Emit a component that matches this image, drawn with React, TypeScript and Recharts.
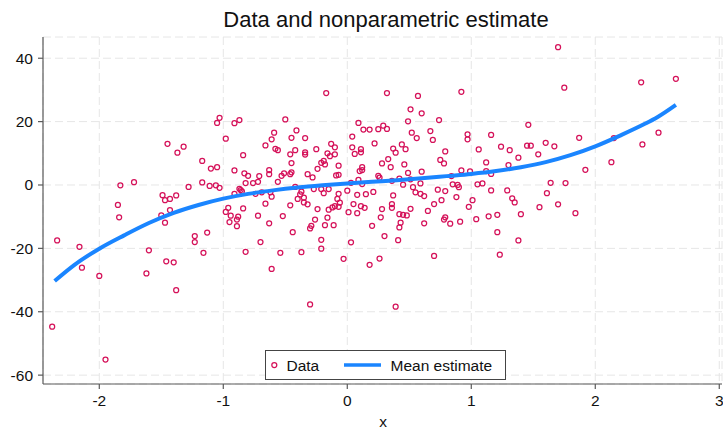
import React from "react";
import { ScatterChart, Scatter, XAxis, YAxis, CartesianGrid } from "recharts";

const TITLE = "Data and nonparametric estimate";
const X_LABEL = "x";
const LEGEND_DATA = "Data";
const LEGEND_MEAN = "Mean estimate";

const xTicks = [-2, -1, 0, 1, 2, 3];
const yTicks = [-60, -40, -20, 0, 20, 40];

// observed data (x, y)
const observations: [number, number][] = [
  [-1.45, 13.0], [-1.37, 10.2], [-1.32, 12.1], [-1.17, 7.6], [-1.10, 5.2], [-1.05, 5.6],
  [-1.05, 19.6], [-1.03, 21.2], [-1.83, -0.1], [-1.72, 0.9], [-1.28, -0.6], [-1.17, 0.8],
  [-1.11, -0.3], [-1.06, -0.1], [-1.03, -0.9], [-1.85, -6.3], [-1.84, -10.2], [-1.49, -3.2],
  [-1.47, -4.8], [-1.43, -4.4], [-1.38, -3.3], [-1.43, -7.9], [-1.50, -9.6],
  [-2.34, -17.5], [-2.16, -19.5], [-2.14, -26.1], [-2.00, -28.7], [-1.47, -11.9], [-1.60, -20.6],
  [-1.62, -27.9], [-1.46, -24.1], [-1.40, -24.4], [-1.38, -33.2], [-1.23, -16.1], [-1.23, -18.0],
  [-1.13, -15.0], [-1.16, -21.4], [-2.38, -44.7], [-1.95, -55.1],
  [-0.17, 29.0], [0.32, 29.0], [-0.91, 19.5], [-0.87, 20.5], [-0.50, 20.7], [-0.98, 14.6],
  [-0.59, 16.5], [-0.61, 14.4], [-0.41, 17.2], [-0.45, 14.9], [-0.34, 14.8], [-0.66, 12.5],
  [-0.58, 11.4], [-0.56, 11.0], [-0.42, 11.0], [-0.46, 9.7], [-0.34, 10.3], [-0.34, 9.6],
  [-0.25, 11.3], [-0.13, 13.0], [-0.10, 11.9], [-0.16, 10.0], [-0.14, 9.1], [-0.10, 9.7],
  [-0.84, 9.4], [-0.91, 4.6], [-0.45, 6.9], [-0.21, 7.0], [-0.19, 7.6], [-0.18, 6.5],
  [-0.07, 6.1], [-0.24, 5.1], [-0.63, 4.7], [-0.63, 3.4], [-0.83, 3.7], [-0.80, 2.9],
  [-0.71, 2.8], [-0.72, 1.0], [-0.51, 3.7], [-0.53, 2.9], [-0.46, 3.4], [-0.45, 4.0],
  [-0.32, 3.4], [-0.28, 2.4], [-0.09, 3.0], [-0.07, 3.2], [-0.56, 1.0], [-0.82, 0.6],
  [-0.76, 0.6], [-0.87, -1.2], [-0.86, -1.6], [-0.85, -2.0], [-0.91, -2.8], [-0.74, -2.8],
  [-0.69, -2.3], [-0.62, -2.3], [-0.61, -3.7], [-0.42, -0.6], [-0.37, -2.1], [-0.38, -3.0],
  [-0.40, -4.4], [-0.35, -4.0], [-0.35, -5.5], [-0.32, -6.1], [-0.27, -1.3], [-0.21, -1.3],
  [-0.15, -1.3], [-0.19, -2.6], [-0.07, -2.8], [-0.08, -4.4], [-0.06, -5.6], [-0.10, -6.7],
  [-0.12, -7.1], [-0.15, -7.8], [-0.07, -6.9], [-0.24, -7.6], [-0.66, -5.9], [-0.46, -6.4],
  [-0.84, -7.4], [-0.96, -7.2], [-0.98, -8.5], [-0.94, -9.7], [-0.88, -10.0], [-0.72, -9.7],
  [-0.52, -9.8], [-0.16, -10.3], [0.00, -1.8], [0.01, -8.6], [0.05, -6.0], [0.08, -8.9],
  [0.11, -6.7], [0.14, -7.2], [0.08, -3.1], [0.15, -2.9], [0.21, -2.2], [0.28, -7.6],
  [0.27, -10.2], [0.03, 0.7], [0.09, 1.6], [0.12, 0.3], [0.25, 2.9], [0.26, 2.3],
  [0.28, 6.8], [0.33, 8.2], [0.04, 15.3], [0.04, 11.9], [0.11, 11.3], [0.11, 10.3],
  [0.06, 9.8], [0.09, 19.6], [0.13, 17.5], [0.18, 17.5], [0.25, 17.6], [0.29, 18.7],
  [0.32, 17.7], [0.22, 13.1], [0.12, 5.6], [0.12, 4.7], [0.10, 4.4],
  [-0.95, -11.7], [-0.89, -10.9], [-0.89, -13.0], [-0.63, -12.1], [-0.44, -14.9], [-0.70, -18.0],
  [-0.82, -21.1], [-0.54, -21.4], [-0.37, -21.2], [-0.61, -26.5], [-0.30, -37.7], [-0.29, -12.9],
  [-0.30, -13.7], [-0.26, -10.9], [-0.18, -12.7], [-0.11, -12.7], [-0.21, -17.3], [-0.21, -20.1],
  [0.20, -12.9], [0.30, -16.1], [0.03, -18.1], [-0.03, -23.3], [0.18, -25.2], [0.26, -23.2],
  [0.42, -9.2], [0.45, -9.4], [0.48, -9.6], [0.43, -11.9], [0.42, -13.4], [0.41, -17.4],
  [0.65, -8.2], [0.62, -12.1], [0.79, -10.2], [0.78, -10.9], [0.83, -12.2], [0.91, -11.6],
  [1.04, -10.8], [1.14, -9.9], [1.21, -9.4], [1.21, -14.9], [1.40, -9.2], [1.38, -17.5],
  [0.70, -22.4], [1.23, -22.0], [0.39, -38.4], [1.84, -8.9],
  [0.57, 28.1], [0.92, 29.4], [1.70, 43.5], [0.51, 23.9], [0.60, 22.6], [0.49, 20.1],
  [0.74, 20.5], [0.52, 16.5], [0.56, 14.8], [0.67, 17.0], [0.69, 14.2], [0.97, 16.0],
  [0.97, 14.4], [1.16, 15.8], [1.46, 19.0], [0.44, 12.8], [0.37, 11.5], [0.47, 11.3],
  [0.39, 10.2], [0.35, 5.6], [0.79, 10.6], [0.75, 7.9], [0.78, 6.8], [1.06, 11.2],
  [1.24, 12.1], [1.31, 11.0], [1.45, 12.4], [1.48, 12.4], [1.60, 13.3], [1.67, 12.2],
  [1.54, 9.7], [1.38, 8.6], [1.12, 7.1], [1.12, 4.4], [1.16, 3.5], [1.30, 6.3],
  [0.46, 6.5], [0.60, 4.2], [0.49, 3.8], [0.84, 2.8], [0.92, 4.6], [0.99, 4.3],
  [0.42, 2.0], [0.36, 1.3], [0.51, 1.8], [0.45, 0.1], [0.59, 0.5], [0.53, -0.7],
  [0.55, -2.3], [0.59, -2.8], [0.62, -3.5], [0.73, -1.5], [0.79, -1.9], [0.85, 0.2],
  [0.89, 0.0], [0.90, -0.7], [1.05, 0.2], [1.09, 0.5], [1.16, -1.7], [1.29, -1.7],
  [1.64, 0.7], [1.61, -2.6], [0.37, -3.3], [0.88, -3.8], [1.01, -4.8], [0.76, -4.8],
  [1.33, -4.2], [1.35, -5.5], [0.36, -6.0], [0.36, -7.2], [0.51, -7.5], [0.70, -6.0],
  [0.98, -6.9], [1.55, -7.0], [1.70, -6.1],
  [1.75, 30.7], [2.37, 32.4], [2.65, 33.5], [1.87, 14.9], [2.15, 14.8], [2.38, 12.8],
  [2.51, 16.5], [2.13, 7.2], [1.92, 4.8], [1.76, 0.6],
];

// nonparametric mean estimate
const curveX = [-2.36, -2.2, -2.0, -1.8, -1.6, -1.4, -1.2, -1.0, -0.8, -0.6, -0.4, -0.2, 0.0, 0.2, 0.4, 0.6, 0.8, 1.0, 1.2, 1.4, 1.6, 1.8, 2.0, 2.2, 2.4, 2.5, 2.65];
const curveY = [-30.3, -25.2, -20.1, -15.9, -12.0, -8.8, -6.3, -4.3, -2.8, -1.7, -0.8, -0.1, 0.5, 1.0, 1.5, 2.1, 2.8, 3.5, 4.4, 5.6, 7.2, 9.4, 12.2, 15.6, 19.3, 21.4, 25.3];

const scatterData = observations.map(([x, y]) => ({ x, y }));
const curveData = curveX.map((x, i) => ({ x, y: curveY[i] }));

const FONT = "'Liberation Sans', Arial, Helvetica, sans-serif";
const RED = "#d51159";
const BLUE = "#1a85ff";
const AXIS = "#5a5a5a";

const HollowCircle = (props: any) => {
  const { cx, cy } = props;
  if (cx == null || cy == null) return null;
  return <circle cx={cx} cy={cy} r={2.5} fill="none" stroke={RED} strokeWidth={1.25} />;
};

const NoShape = () => null;

export default function App() {
  return (
    <div style={{ position: "absolute", left: 0, top: 0, width: 723, height: 430, background: "#fff", fontFamily: FONT }}>
      <ScatterChart width={723} height={430} margin={{ top: 37, right: 1, bottom: 0, left: 0 }}>
        <CartesianGrid stroke="#e6e6e6" strokeDasharray="8 4" strokeWidth={1} />
        <XAxis
          type="number"
          dataKey="x"
          domain={[-2.454, 3.022]}
          ticks={xTicks}
          allowDataOverflow
          height={46}
          tickSize={5}
          tickMargin={6}
          axisLine={{ stroke: AXIS, strokeWidth: 1.2 }}
          tickLine={{ stroke: AXIS, strokeWidth: 1.2 }}
          tick={{ fill: "#111", fontSize: 15.5, fontFamily: FONT }}
          interval={0}
        />
        <YAxis
          type="number"
          dataKey="y"
          domain={[-62.8, 46.7]}
          ticks={yTicks}
          allowDataOverflow
          width={43}
          tickSize={5}
          tickMargin={5}
          axisLine={{ stroke: AXIS, strokeWidth: 1.2 }}
          tickLine={{ stroke: AXIS, strokeWidth: 1.2 }}
          tick={{ fill: "#111", fontSize: 15.5, fontFamily: FONT }}
          interval={0}
        />
        <Scatter name="Data" data={scatterData} shape={HollowCircle} isAnimationActive={false} />
        <Scatter
          name="Mean estimate"
          data={curveData}
          shape={NoShape}
          line={{ stroke: BLUE, strokeWidth: 4, fill: "none" }}
          lineType="joint"
          lineJointType="monotoneX"
          isAnimationActive={false}
        />
      </ScatterChart>
      <svg width={723} height={430} style={{ position: "absolute", left: 0, top: 0, pointerEvents: "none" }}>
        <text x={386} y={27} textAnchor="middle" fontSize={22} fill="#111" fontFamily={FONT}>{TITLE}</text>
        <text x={383} y={427} textAnchor="middle" fontSize={15.5} fill="#111" fontFamily={FONT}>{X_LABEL}</text>
        <rect x={265.5} y={350.5} width={240} height={29} fill="#fff" stroke="#444" strokeWidth={1} />
        <circle cx={274.3} cy={365} r={2.5} fill="none" stroke={RED} strokeWidth={1.25} />
        <text x={286.5} y={371} fontSize={15.5} fill="#111" fontFamily={FONT}>{LEGEND_DATA}</text>
        <line x1={344} y1={365} x2={381} y2={365} stroke={BLUE} strokeWidth={3.3} />
        <text x={390.5} y={371} fontSize={15.5} fill="#111" fontFamily={FONT}>{LEGEND_MEAN}</text>
      </svg>
    </div>
  );
}
